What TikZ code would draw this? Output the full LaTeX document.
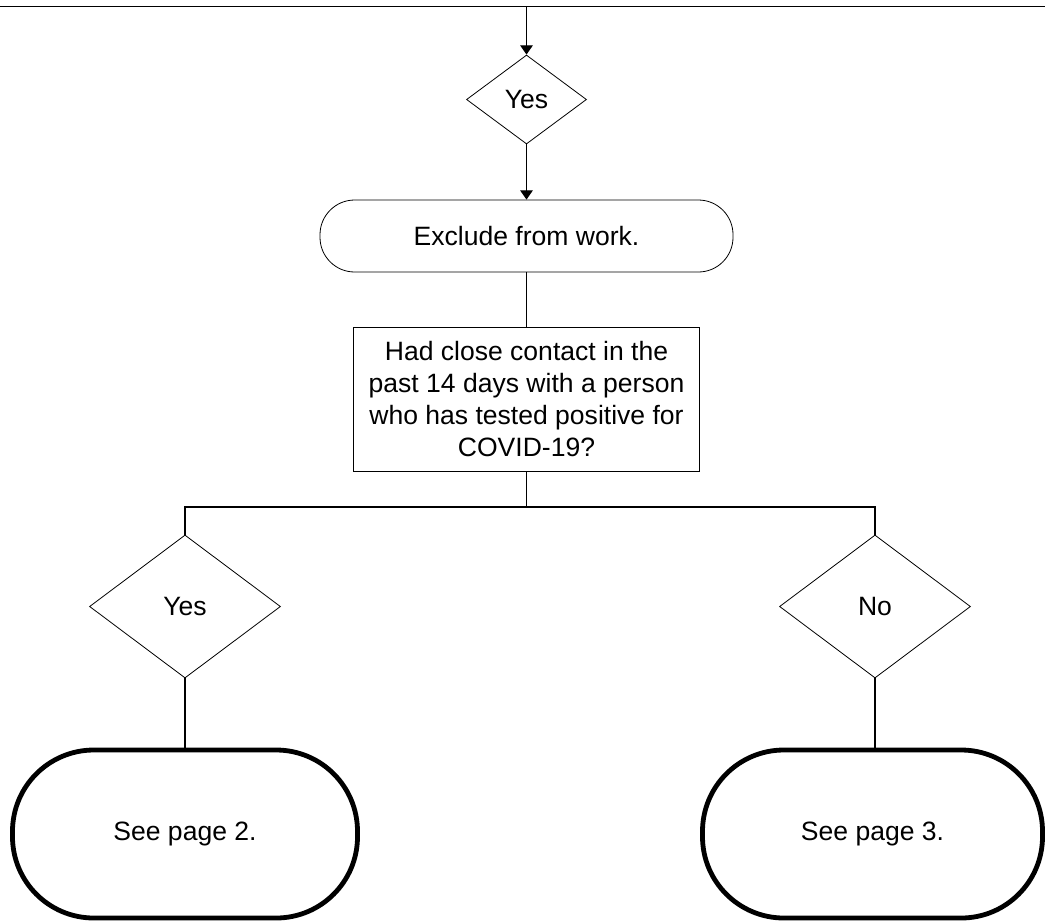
\documentclass[tikz,border=0pt]{standalone}
\usepackage{fontspec}
\setmainfont{Liberation Sans}
\usetikzlibrary{shapes.geometric,arrows.meta}
\begin{document}
\begin{tikzpicture}[x=0.75pt,y=-0.75pt,
  every node/.style={font=\fontsize{19.9}{23.8}\selectfont, align=center},
  conn/.style={line width=0.9pt, black},
  arr/.style={conn, -{Triangle[width=9.5pt,length=7pt]}},
  dec/.style={draw, diamond, line width=0.6pt, inner sep=0pt},
  termsmall/.style={draw, rectangle, rounded corners=26pt, line width=0.6pt, inner sep=0pt},
  termbig/.style={draw, rectangle, rounded corners=61pt, line width=3.6pt, inner sep=0pt},
  qbox/.style={draw, rectangle, line width=0.6pt, inner sep=0pt}]
\useasboundingbox (0,0) rectangle (1045,922);
\fill[white] (0,0) rectangle (1045,922);
% nodes
\node[dec, minimum width=90pt, minimum height=66.75pt] (d0) at (526.5,99.5) {Yes};
\node[termsmall, minimum width=309.75pt, minimum height=54pt] (t0) at (526.5,236) {Exclude from work.};
\node[qbox, minimum width=259.5pt, minimum height=108pt] (q) at (526.5,399) {Had close contact in the\\past 14 days with a person\\who has tested positive for\\COVID-19?};
\node[dec, minimum width=143.25pt, minimum height=107.25pt] (d1) at (185,606.5) {Yes};
\node[dec, minimum width=143.25pt, minimum height=107.25pt] (d2) at (875,606.5) {No};
\node[termbig, minimum width=258.75pt, minimum height=126pt] (b1) at (185,834) {See page 2.};
\node[termbig, minimum width=255pt, minimum height=126pt] (b2) at (872.5,834) {See page 3.};
% coordinates
\coordinate (topL) at (0,6.3);
\coordinate (topR) at (1045,6.3);
\coordinate (topC) at (526.5,6.3);
\coordinate (split) at (526.5,507);
% connectors
\draw[line width=1pt] (topL) -- (topR);
\draw[arr] (topC) -- (d0.north);
\draw[arr] (d0.south) -- (t0.north);
\draw[conn] (t0.south) -- (q.north);
\draw[conn] (q.south) -- (split);
\draw[conn] (split) -| (d1.north);
\draw[conn] (split) -| (d2.north);
\draw[conn] (d1.south) -- (b1.north);
\draw[conn] (d2.south) -- (d2.south |- b2.north);
\end{tikzpicture}
\end{document}
